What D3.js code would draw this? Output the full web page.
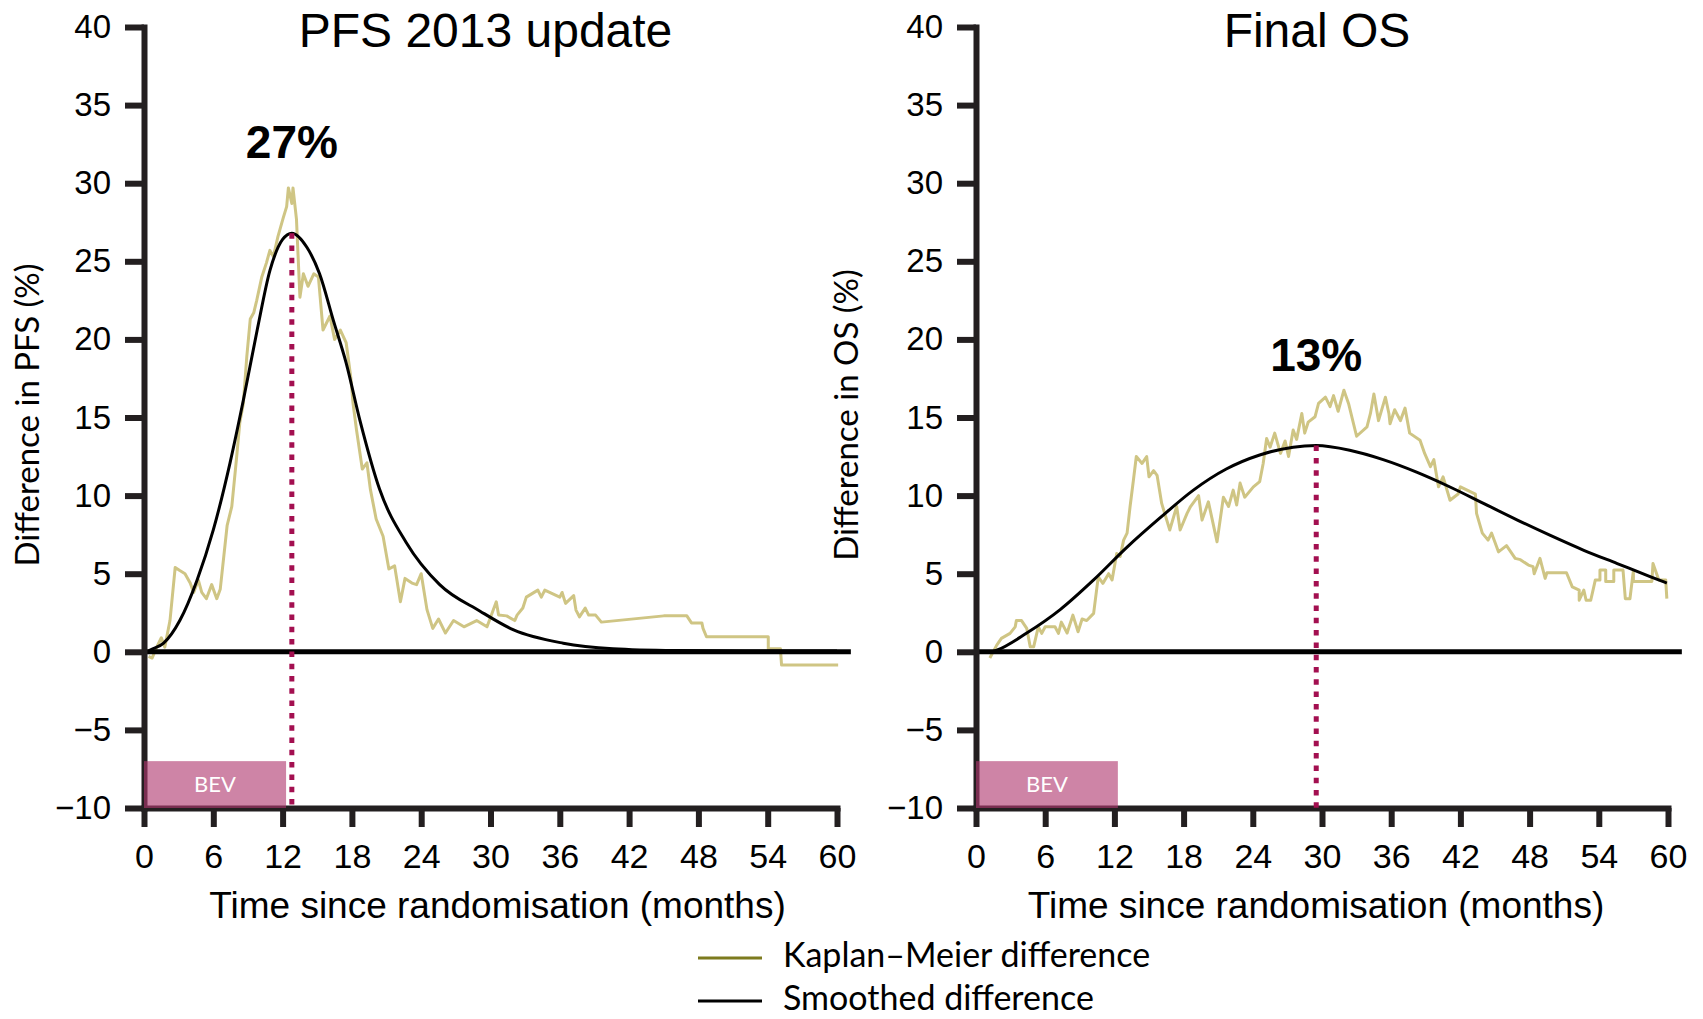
<!DOCTYPE html>
<html>
<head>
<meta charset="utf-8">
<script src="https://cdn.jsdelivr.net/npm/d3@7"></script>
<style>
  body { margin: 0; background: #fff; }
</style>
</head>
<body>
<div id="chart"></div>
<script>
// Chart data
var xTicks = [0, 6, 12, 18, 24, 30, 36, 42, 48, 54, 60];
var yTicks = [-10, -5, 0, 5, 10, 15, 20, 25, 30, 35, 40];

// [month, difference %]
var pfsKaplanMeier = [[0.4,-0.3],[0.7,-0.4],[1.1,0.3],[1.5,0.9],[1.8,0.3],[2.25,2.0],[2.7,5.4],[3.1,5.2],[3.55,5.0],[4.0,4.4],[4.3,3.8],[4.7,4.6],[5.0,3.8],[5.4,3.4],[5.86,4.3],[6.3,3.4],[6.6,4.0],[7.2,8.1],[7.6,9.3],[8.0,12.3],[8.3,14.7],[8.6,15.9],[8.9,18.9],[9.2,21.3],[9.5,21.7],[9.76,22.5],[10.2,24.0],[10.6,24.9],[10.9,25.7],[11.2,25.3],[11.6,26.6],[12.06,27.8],[12.35,28.5],[12.5,29.7],[12.8,28.7],[12.9,29.7],[13.2,27.7],[13.5,22.7],[13.8,24.2],[14.2,23.4],[14.7,24.2],[15.1,24.0],[15.5,20.6],[16.1,21.5],[16.5,20.0],[17.0,20.6],[17.5,19.8],[17.9,17.6],[18.1,15.9],[18.4,14.2],[18.9,11.7],[19.3,12.1],[19.6,10.4],[20.1,8.5],[20.7,7.4],[21.2,5.3],[21.7,5.5],[22.2,3.2],[22.6,4.7],[23.2,4.4],[23.6,4.3],[24.0,5.0],[24.5,2.7],[25.0,1.5],[25.5,2.1],[26.1,1.2],[26.8,2.0],[27.7,1.6],[28.8,2.0],[29.7,1.6],[30.5,3.2],[30.7,2.35],[31.4,2.3],[32.1,2.0],[32.3,2.35],[32.8,2.8],[33.1,3.5],[34.1,3.95],[34.4,3.5],[34.7,3.95],[36.0,3.5],[36.2,3.8],[36.5,3.1],[37.2,3.6],[37.4,2.67],[37.7,2.24],[38.2,2.8],[38.5,2.35],[39.1,2.35],[39.6,1.9],[45.0,2.3],[47.0,2.3],[47.4,1.85],[48.3,1.85],[48.4,1.5],[48.7,0.96],[54.05,0.96],[54.05,0.2],[55.1,0.2],[55.2,-0.85],[60.1,-0.85]];

var pfsSmoothed = [[0.3,0],[0.5,0.1],[1.7,0.55],[3.1,2.0],[4.6,4.6],[6.0,7.8],[7.45,12.1],[8.6,16.1],[9.8,20.6],[10.9,24.4],[12.0,26.4],[12.8,26.8],[14.1,25.9],[15.2,24.2],[16.4,21.2],[17.5,18.5],[18.7,14.8],[20.4,10.4],[22.7,7.0],[25.6,4.3],[29.1,2.6],[32.0,1.4],[36.3,0.55],[40.6,0.2],[46,0.08],[52,0.05],[60,0.05]];

var osKaplanMeier = [[1.2,-0.4],[1.8,0.43],[2.2,0.86],[2.95,1.18],[3.4,1.6],[3.5,2.0],[3.95,2.0],[4.4,1.5],[4.7,0.32],[5.0,0.32],[5.4,1.6],[5.7,1.18],[6.0,1.6],[6.85,1.6],[7.15,1.18],[7.4,1.9],[7.9,1.2],[8.4,2.35],[8.85,1.28],[9.2,2.1],[9.6,2.0],[10.2,2.46],[10.6,4.8],[11.0,4.38],[11.5,5.0],[11.8,4.6],[12.2,6.3],[12.5,6.1],[12.8,7.15],[13.1,7.6],[13.36,9.3],[13.65,11.0],[13.9,12.5],[14.4,12.06],[14.8,12.5],[15.0,11.2],[15.4,11.6],[15.7,11.3],[16.1,9.5],[16.8,7.8],[17.4,9.3],[17.7,7.8],[18.3,8.86],[18.6,9.3],[19.3,10.0],[19.6,8.43],[20.15,9.6],[20.9,7.04],[21.45,9.9],[21.9,9.3],[22.3,10.35],[22.6,9.4],[22.9,10.8],[23.3,9.9],[24.05,10.56],[24.6,10.9],[24.9,12.06],[25.2,13.66],[25.5,13.1],[25.9,14.0],[26.4,12.7],[26.8,13.5],[27.1,12.5],[27.5,14.2],[27.8,13.6],[28.25,15.26],[28.5,14.0],[28.8,14.7],[29.4,15.05],[29.7,15.9],[30.3,16.3],[30.7,15.7],[31.0,16.4],[31.4,15.4],[31.9,16.75],[32.3,15.9],[33.0,13.8],[33.9,14.4],[34.2,15.26],[34.5,16.5],[34.9,14.8],[35.5,16.3],[35.8,15.26],[35.9,14.6],[36.3,15.5],[36.8,14.8],[37.2,15.6],[37.6,14.0],[38.5,13.55],[38.9,12.7],[39.4,11.85],[39.7,12.3],[40.1,10.56],[40.5,11.2],[41.1,9.7],[41.8,10.1],[42.0,10.56],[43.3,10.1],[43.4,8.86],[43.9,7.6],[44.4,7.15],[44.7,7.6],[45.3,6.4],[46.0,6.8],[46.75,5.98],[47.2,5.9],[47.9,5.55],[48.3,5.45],[48.4,5.0],[48.9,5.98],[49.35,4.7],[49.5,5.06],[51.2,5.06],[51.7,4.16],[52.3,3.95],[52.3,3.3],[52.7,3.95],[52.9,3.3],[53.3,3.3],[53.5,3.95],[53.7,4.6],[54.1,4.6],[54.1,5.23],[54.6,5.23],[54.6,4.5],[55.3,4.5],[55.3,5.23],[56.1,5.23],[56.3,3.4],[56.7,3.4],[57.0,5.2],[57.0,4.5],[58.6,4.5],[58.7,5.66],[59.2,4.6],[59.8,4.6],[59.9,3.4]];

var osSmoothed = [[1.4,0],[1.8,0.1],[4.4,1.2],[7.3,2.7],[10.2,4.6],[13.1,6.7],[16.0,8.6],[18.85,10.35],[21.7,11.7],[24.6,12.6],[27.5,13.1],[29.5,13.2],[32.4,12.9],[35.3,12.3],[38.2,11.5],[41.1,10.55],[44.0,9.5],[46.9,8.45],[49.8,7.45],[52.7,6.5],[55.6,5.65],[58.5,4.8],[59.9,4.4]];

// peak: month, value, label, label height (value units)
var pfsPeak = [12.8, 26.8, "27%", 31.6];
var osPeak = [29.5, 13.2, "13%", 18.0];

// BEV treatment period (months)
var bevPeriod = [0, 12.3];

var legendItems = ["Kaplan\u2013Meier difference", "Smoothed difference"];

// Chart setup
var svgWidth = 1703;
var svgHeight = 1019;
var plotTop = 27;
var plotBottom = 808;

var kmColor = "#cfc584";
var kmLegendColor = "#7d7b1e";
var axisColor = "#231f20";
var peakColor = "#a30f50";
var bevColor = "#b0386f";

var tickFont = "'Liberation Sans', Arial, sans-serif";
var labelFont = "Lato, 'Open Sans', sans-serif";

var svg = d3.select("#chart").append("svg")
  .attr("width", svgWidth)
  .attr("height", svgHeight);

var panels = [
  { title: "PFS 2013 update", yLabel: "Difference in PFS (%)", km: pfsKaplanMeier, smooth: pfsSmoothed, peak: pfsPeak, left: 144, right: 837, yLabelX: 27, xTitleShift: 7 },
  { title: "Final OS", yLabel: "Difference in OS (%)", km: osKaplanMeier, smooth: osSmoothed, peak: osPeak, left: 976, right: 1668, yLabelX: 846, xTitleShift: -6 }
];

panels.forEach(drawPanel);

function drawPanel(p) {
  var x = d3.scaleLinear().domain([0, 60]).range([p.left, p.right]);
  var y = d3.scaleLinear().domain([-10, 40]).range([plotBottom, plotTop]);
  var g = svg.append("g");

  var kmLine = d3.line().x(d => x(d[0])).y(d => y(d[1]));
  var smoothLine = d3.line().x(d => x(d[0])).y(d => y(d[1])).curve(d3.curveMonotoneX);

  // Kaplan-Meier difference
  g.append("path")
    .datum(p.km)
    .attr("d", kmLine)
    .attr("fill", "none")
    .attr("stroke", kmColor)
    .attr("stroke-width", 3)
    .attr("stroke-linejoin", "round");

  // Smoothed difference
  g.append("path")
    .datum(p.smooth)
    .attr("d", smoothLine)
    .attr("fill", "none")
    .attr("stroke", "#000")
    .attr("stroke-width", 3);

  // zero line
  g.append("line")
    .attr("x1", x(0)).attr("x2", x(61.2))
    .attr("y1", y(0)).attr("y2", y(0))
    .attr("stroke", "#000")
    .attr("stroke-width", 5);

  // axes
  var leftAxis = d3.axisLeft(y)
    .tickValues(yTicks)
    .tickSize(19)
    .tickPadding(14)
    .tickSizeOuter(0)
    .tickFormat(d => d < 0 ? "\u2212" + Math.abs(d) : d);

  var bottomAxis = d3.axisBottom(x)
    .tickValues(xTicks)
    .tickSize(19)
    .tickPadding(17)
    .tickSizeOuter(0);

  var yg = g.append("g")
    .attr("transform", `translate(${x(0)}, 0)`)
    .call(leftAxis);
  var xg = g.append("g")
    .attr("transform", `translate(0, ${y(-10)})`)
    .call(bottomAxis);

  [yg, xg].forEach(function(a) {
    a.attr("font-family", tickFont).attr("font-size", null);
    a.select(".domain").attr("stroke", axisColor).attr("stroke-width", 6).attr("stroke-linecap", "square");
    a.selectAll(".tick line").attr("stroke", axisColor).attr("stroke-width", 6);
    a.selectAll(".tick text").attr("fill", "#000");
  });
  yg.selectAll(".tick text").attr("font-size", 33);
  xg.selectAll(".tick text").attr("font-size", 34);

  // peak marker
  g.append("line")
    .attr("x1", x(p.peak[0])).attr("x2", x(p.peak[0]))
    .attr("y1", y(p.peak[1])).attr("y2", y(-10))
    .attr("stroke", peakColor)
    .attr("stroke-width", 5)
    .attr("stroke-dasharray", "5.5,6.8");

  g.append("text")
    .attr("x", x(p.peak[0]))
    .attr("y", y(p.peak[3]))
    .attr("text-anchor", "middle")
    .attr("font-family", tickFont)
    .attr("font-weight", "bold")
    .attr("font-size", 46)
    .text(p.peak[2]);

  // BEV bar
  g.append("rect")
    .attr("x", x(bevPeriod[0]))
    .attr("y", y(-7))
    .attr("width", x(bevPeriod[1]) - x(bevPeriod[0]))
    .attr("height", y(-10) - y(-7))
    .attr("fill", bevColor)
    .attr("opacity", 0.62);

  g.append("text")
    .attr("x", (x(bevPeriod[0]) + x(bevPeriod[1])) / 2)
    .attr("y", y(-8.5))
    .attr("dy", "0.35em")
    .attr("text-anchor", "middle")
    .attr("font-family", labelFont)
    .attr("font-size", 22)
    .attr("fill", "#fff")
    .text("BEV");

  // titles and axis labels
  g.append("text")
    .attr("x", x(30) - 5)
    .attr("y", 47)
    .attr("text-anchor", "middle")
    .attr("font-family", tickFont)
    .attr("font-size", 48)
    .text(p.title);

  g.append("text")
    .attr("x", x(30) + p.xTitleShift)
    .attr("y", 918)
    .attr("text-anchor", "middle")
    .attr("font-family", tickFont)
    .attr("font-size", 37)
    .text("Time since randomisation (months)");

  g.append("text")
    .attr("transform", `translate(${p.yLabelX}, 415) rotate(-90)`)
    .attr("text-anchor", "middle")
    .attr("dy", "0.35em")
    .attr("font-family", labelFont)
    .attr("font-size", 33)
    .text(p.yLabel);
}

// Legend
var legend = svg.append("g").attr("transform", "translate(698, 958)");
var legendRows = legend.selectAll("g")
  .data(legendItems)
  .enter()
  .append("g")
  .attr("transform", (d, i) => `translate(0, ${i * 43})`);

legendRows.append("line")
  .attr("x1", 0).attr("x2", 64)
  .attr("stroke", (d, i) => i === 0 ? kmLegendColor : "#000")
  .attr("stroke-width", 3);

legendRows.append("text")
  .attr("x", 85)
  .attr("y", 9)
  .attr("font-family", labelFont)
  .attr("font-size", 34)
  .text(d => d);
</script>
</body>
</html>
